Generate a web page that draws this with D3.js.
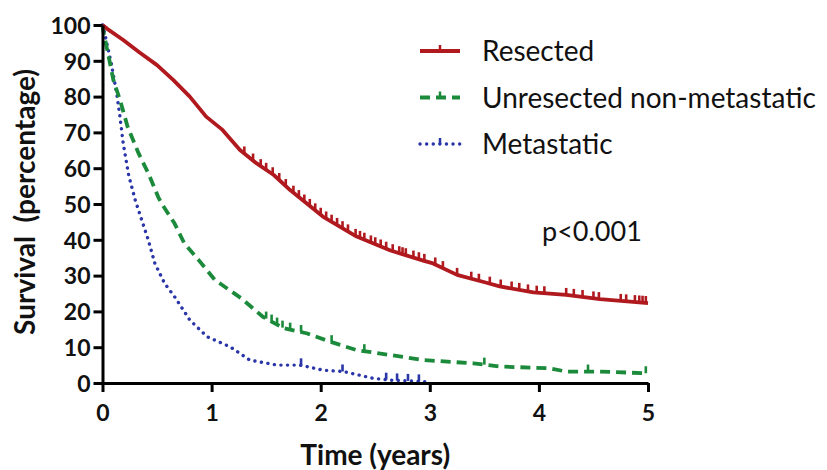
<!DOCTYPE html>
<html>
<head>
<meta charset="utf-8">
<script src="https://cdn.jsdelivr.net/npm/d3@7"></script>
<style>
  body { margin: 0; background: #fff; }
  svg { font-family: Lato, "Open Sans", sans-serif; }
</style>
</head>
<body>
<svg id="chart"></svg>
<script>
// survival curves (time in years, survival in %)
const resectedT = [0, 0.04, 0.19, 0.34, 0.5, 0.65, 0.8, 0.95, 1.1, 1.26, 1.41, 1.57, 1.72, 1.87, 2.02, 2.33, 2.64, 2.94, 3.03, 3.25, 3.52, 3.64, 3.95, 4.25, 4.56, 5];
const resectedS = [100, 99, 95.8, 92.3, 88.8, 84.6, 80, 74.4, 70.7, 65.1, 61.4, 58.1, 53.9, 50.2, 46.5, 40.9, 37, 34.2, 33.4, 30.2, 28, 27, 25.3, 24.6, 23.4, 22.3];
const unresT = [0, 0.005, 0.05, 0.1, 0.16, 0.23, 0.33, 0.42, 0.51, 0.54, 0.66, 0.75, 0.88, 1.03, 1.27, 1.47, 1.66, 1.87, 2.09, 2.33, 2.64, 2.94, 3.4, 3.64, 4.1, 4.25, 4.56, 5];
const unresS = [100, 98.6, 92.1, 84.6, 79.1, 71.6, 64.2, 58.6, 52, 50.2, 44.6, 39, 34.4, 28.8, 23.7, 18.5, 15.3, 13.9, 11.5, 9.2, 7.8, 6.4, 5.5, 4.6, 4.1, 3.2, 3.2, 2.7];
const metaT = [0, 0.02, 0.08, 0.13, 0.16, 0.19, 0.24, 0.3, 0.36, 0.42, 0.48, 0.57, 0.67, 0.8, 0.96, 1.17, 1.35, 1.6, 1.81, 2.02, 2.21, 2.48, 2.64, 2.94, 2.99];
const metaS = [100, 97.7, 89.3, 80.9, 74.4, 66.9, 58, 51.1, 45.5, 39.9, 33.4, 27.8, 23.7, 17.6, 12.9, 10.1, 6.4, 5, 5, 3.6, 3.2, 1.3, 0.8, 0.4, 0.3];

// censored observations (tick marks)
const resectedCens = [1.3, 1.38, 1.45, 1.5, 1.56, 1.62, 1.68, 1.75, 1.8, 1.85, 1.9, 1.95, 2.0, 2.05, 2.1, 2.15, 2.2, 2.25, 2.32, 2.36, 2.4, 2.46, 2.5, 2.55, 2.6, 2.66, 2.72, 2.75, 2.78, 2.85, 2.9, 2.95, 3.05, 3.12, 3.25, 3.38, 3.45, 3.55, 3.65, 3.75, 3.82, 3.9, 3.98, 4.05, 4.25, 4.32, 4.4, 4.5, 4.55, 4.75, 4.8, 4.88, 4.92, 4.95, 4.98];
const unresCens = [1.5, 1.55, 1.6, 1.65, 1.72, 1.82, 2.1, 2.4, 3.5, 4.45, 4.98];
const metaCens = [1.82, 2.2, 2.6, 2.7, 2.8, 2.9];

const xTicks = [0, 1, 2, 3, 4, 5];
const yTicks = [0, 10, 20, 30, 40, 50, 60, 70, 80, 90, 100];
const seriesNames = ['Resected', 'Unresected non-metastatic', 'Metastatic'];

const width = 827, height = 470;
const margin = { top: 25, right: 179, bottom: 87, left: 102.5 };
const innerW = width - margin.left - margin.right;
const innerH = height - margin.top - margin.bottom;

const svg = d3.select('#chart')
    .attr('width', width)
    .attr('height', height);

const chart = svg.append('g')
    .attr('transform', `translate(${margin.left}, ${margin.top})`);

const xscale = d3.scaleLinear().domain([0, 5]).range([0, innerW]);
const yscale = d3.scaleLinear().domain([0, 100]).range([innerH, 0]);

const series = [
    { name: seriesNames[0], t: resectedT, s: resectedS, cens: resectedCens, color: '#b0191e', dash: null, width: 3.8, cap: 'butt' },
    { name: seriesNames[1], t: unresT, s: unresS, cens: unresCens, color: '#1b8a3a', dash: '10,6', width: 3.8, cap: 'butt' },
    { name: seriesNames[2], t: metaT, s: metaS, cens: metaCens, color: '#2a36a8', dash: '0.1,6.5', width: 3.4, cap: 'round' }
];

const line = d3.line()
    .x(d => xscale(d[0]))
    .y(d => yscale(d[1]));

// value of a curve at time t, from its own read points
function valueAt(sr, t) {
    const i = d3.bisectRight(sr.t, t);
    if (i <= 0) return sr.s[0];
    if (i >= sr.t.length) return sr.s[sr.s.length - 1];
    const f = (t - sr.t[i - 1]) / (sr.t[i] - sr.t[i - 1]);
    return sr.s[i - 1] + f * (sr.s[i] - sr.s[i - 1]);
}

// draw blue first, red on top
[series[2], series[1], series[0]].forEach(sr => {
    chart.append('path')
        .attr('d', line(sr.t.map((t, i) => [t, sr.s[i]])))
        .attr('fill', 'none')
        .attr('stroke', sr.color)
        .attr('stroke-width', sr.width)
        .attr('stroke-linecap', sr.cap)
        .attr('stroke-linejoin', 'round')
        .attr('stroke-dasharray', sr.dash);

    chart.selectAll(null)
        .data(sr.cens)
        .enter()
        .append('line')
        .attr('x1', d => xscale(d))
        .attr('x2', d => xscale(d))
        .attr('y1', d => yscale(valueAt(sr, d)))
        .attr('y2', d => yscale(valueAt(sr, d)) - 7)
        .attr('stroke', sr.color)
        .attr('stroke-width', 2.6);
});

// axes
const xaxis = d3.axisBottom(xscale).tickValues(xTicks).tickFormat(d3.format('d'))
    .tickSize(9).tickSizeOuter(0).tickPadding(13);
const yaxis = d3.axisLeft(yscale).tickValues(yTicks).tickFormat(d3.format('d'))
    .tickSize(9).tickSizeOuter(0).tickPadding(3);

const xg = chart.append('g')
    .attr('transform', `translate(0, ${innerH})`)
    .call(xaxis);
const yg = chart.append('g').call(yaxis);

[xg, yg].forEach(g => {
    g.select('.domain').attr('stroke', '#000').attr('stroke-width', 3);
    g.selectAll('.tick line').attr('stroke', '#000').attr('stroke-width', 3);
    g.selectAll('.tick text')
        .attr('fill', '#111')
        .attr('font-size', 23)
        .attr('font-weight', 'bold')
        .attr('font-family', 'Lato, sans-serif');
});
yg.selectAll('.tick text').attr('dy', '0.36em');

// axis titles
svg.append('text')
    .attr('x', margin.left + xscale(2.5))
    .attr('y', 465)
    .attr('text-anchor', 'middle')
    .attr('font-size', 28)
    .attr('font-weight', 'bold')
    .attr('fill', '#111')
    .text('Time (years)');

svg.append('text')
    .attr('transform', `translate(35, ${margin.top + yscale(50) - 2}) rotate(-90)`)
    .attr('text-anchor', 'middle')
    .attr('font-size', 28)
    .attr('font-weight', 'bold')
    .attr('fill', '#111')
    .attr('xml:space', 'preserve')
    .text('Survival  (percentage)');

// p value
svg.append('text')
    .attr('x', 542)
    .attr('y', 241)
    .attr('font-size', 27)
    .attr('fill', '#111')
    .text('p<0.001');

// legend
const legend = svg.append('g').attr('transform', 'translate(420, 51)');
series.forEach((sr, i) => {
    const row = legend.append('g').attr('transform', `translate(0, ${i * 46.5})`);
    row.append('line')
        .attr('x1', 0).attr('x2', 40)
        .attr('stroke', sr.color)
        .attr('stroke-width', sr.width)
        .attr('stroke-linecap', sr.cap)
        .attr('stroke-dasharray', sr.dash);
    row.append('line')
        .attr('x1', 20).attr('x2', 20)
        .attr('y1', 0).attr('y2', -6)
        .attr('stroke', sr.color)
        .attr('stroke-width', 2.5);
    row.append('text')
        .attr('x', 62)
        .attr('y', 10)
        .attr('font-size', 28)
        .attr('fill', '#111')
        .text(sr.name);
});
</script>
</body>
</html>
